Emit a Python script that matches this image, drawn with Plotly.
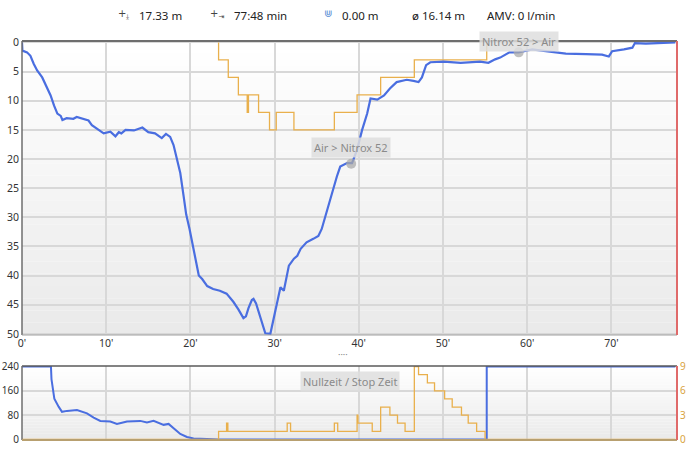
import plotly.graph_objects as go

# depth profile (minutes, metres)
depth_time = [0.0, 0.05, 0.6, 1.0, 1.4, 1.8, 2.4, 3.0, 3.4, 3.8, 4.2, 4.6, 4.8, 5.3, 6.1, 6.5, 7.3, 7.9,
              8.3, 9.1, 9.7, 10.5, 11.1, 11.5, 11.8, 12.3, 13.3, 14.3, 15.0, 15.8, 16.6, 17.1, 17.6,
              18.0, 18.4, 18.8, 19.2, 19.5, 19.9, 20.3, 20.6, 21.0, 21.4, 22.0, 22.7, 23.5, 24.3, 25.1,
              25.7, 26.3, 26.6, 26.9, 27.3, 27.5, 27.8, 28.1, 28.5, 28.9, 29.5, 30.1, 30.7, 31.1, 31.7,
              32.3, 32.7, 33.1, 33.8, 34.6, 35.2, 35.6, 36.2, 37.0, 37.4, 37.8, 38.6, 39.2, 39.8, 40.4,
              41.0, 41.4, 42.2, 43.0, 43.7, 44.5, 45.7, 46.5, 47.1, 47.5, 48.0, 48.5, 50.1, 52.1, 54.4,
              55.4, 56.2, 56.8, 57.9, 59.0, 60.6, 62.2, 64.6, 67.0, 68.9, 69.7, 70.1, 71.5, 72.5, 72.8,
              74.1, 77.6]
depth_m = [0.0, 1.4, 1.7, 2.3, 3.7, 4.8, 6.0, 7.7, 9.1, 10.8, 12.2, 12.6, 13.3, 13.0, 13.1, 12.8, 13.1, 13.4,
           14.2, 15.0, 15.6, 15.3, 16.1, 15.4, 15.6, 15.0, 15.1, 14.6, 15.4, 15.6, 16.4, 15.7, 16.2,
           17.6, 20.1, 22.4, 26.4, 29.5, 32.0, 34.9, 37.7, 40.0, 40.6, 41.8, 42.3, 42.6, 43.1, 44.5,
           45.8, 47.3, 47.0, 45.6, 44.2, 44.0, 44.8, 46.2, 48.3, 49.9, 50.0, 46.2, 42.0, 42.6, 38.3,
           37.1, 36.6, 35.4, 34.3, 33.7, 33.2, 32.0, 28.9, 24.7, 23.0, 21.3, 20.7, 20.7, 18.4, 15.0,
           12.2, 9.6, 9.8, 9.1, 7.9, 6.8, 6.4, 6.6, 6.8, 6.0, 3.9, 3.4, 3.3, 3.5, 3.3,
           3.5, 2.9, 2.6, 1.7, 1.7, 1.2, 1.5, 1.9, 2.0, 2.1, 2.4, 1.5, 1.2, 0.9, 0.1,
           0.2, 0.0]

# deco ceiling (step line)
ceiling_time = [23.35, 23.35, 24.5, 25.7, 26.75, 26.9, 28.1, 29.4, 30.2, 32.3, 37.1, 39.8, 42.6, 46.6, 55.2]
ceiling_m = [0, 3, 6, 9, 12, 9, 12, 15, 12, 15, 12, 9, 6, 3, 0]

# gas switches
switch_time = [39.1, 59.0]
switch_depth = [20.8, 1.7]
switch_label = ["Air > Nitrox 52", "Nitrox 52 > Air"]

# no-deco time (left axis, min)
ndl_time = [0, 3.44, 3.5, 3.84, 4.35, 4.75, 5.34, 6.53, 7.72, 8.51, 9.3, 10.49, 11.28, 12.47, 14.05,
            14.84, 15.63, 16.82, 17.41, 18.01, 18.8, 19.59, 20.38, 21.96, 23.35, 55.2, 55.2, 77.6]
ndl_min = [240, 240, 199, 134, 108, 91, 94, 97, 86, 72, 61, 59, 51, 59, 61,
           56, 61, 48, 51, 38, 18, 8, 3, 1, 0, 0, 240, 240]

# stop time (right axis, min)
stop_t = [0, 23.35, 24.3, 24.45, 31.5, 31.9, 37.1, 37.5, 39.8, 39.9, 41.6, 42.6, 43.7, 44.6, 45.5,
          46.6, 47.1, 48.15, 49.0, 50.2, 51.1, 52.2, 53.0, 54.0, 55.0, 77.6]
stop_min = [0, 1, 2, 1, 2, 1, 2, 1, 3, 2, 1, 4, 3, 2, 1,
            9, 8, 7, 6, 5, 4, 3, 2, 1, 0, 0]

x_ticks = [0, 10, 20, 30, 40, 50, 60, 70]
depth_ticks = [0, 5, 10, 15, 20, 25, 30, 35, 40, 45, 50]
ndl_ticks = [0, 80, 160, 240]
stop_ticks = [0, 3, 6, 9]

header_icons = ["+<sub>⤓</sub>", "+<sub>⇥</sub>", "⋓"]
header_values = ["17.33 m", "77:48 min", "0.00 m", "ø 16.14 m", "AMV: 0 l/min"]

BLUE = "#4a6ee0"
ORANGE = "#e9b04c"
FONT = "Noto Sans"

fig = go.Figure()
fig.add_trace(go.Scatter(x=ceiling_time, y=ceiling_m, mode="lines", line=dict(color=ORANGE, width=1.3, shape="hv"),
                         xaxis="x", yaxis="y", hoverinfo="skip"))
fig.add_trace(go.Scatter(x=depth_time, y=depth_m, mode="lines", line=dict(color=BLUE, width=2.2),
                         xaxis="x", yaxis="y"))
fig.add_trace(go.Scatter(x=switch_time, y=switch_depth, mode="markers",
                         marker=dict(color="rgba(170,170,170,0.75)", size=10),
                         xaxis="x", yaxis="y"))
fig.add_trace(go.Scatter(x=stop_t, y=stop_min, mode="lines", line=dict(color=ORANGE, width=1.3, shape="hv"),
                         xaxis="x2", yaxis="y3"))
fig.add_trace(go.Scatter(x=ndl_time, y=ndl_min, mode="lines", line=dict(color=BLUE, width=2),
                         xaxis="x2", yaxis="y2"))

top_dom = [1 - 335 / 449, 1 - 41 / 449]
low_dom = [1 - 440 / 449, 1 - 366 / 449]
tickfont = dict(family=FONT, size=10.5, color="#333333")

fig.update_layout(
    width=691, height=449,
    margin=dict(l=22, r=14, t=0, b=0, pad=0, autoexpand=False),
    paper_bgcolor="white", plot_bgcolor="white",
    showlegend=False,
    xaxis=dict(domain=[0, 1], range=[0, 77.8], tickvals=x_ticks, ticktext=[f"{t}'" for t in x_ticks],
               showgrid=True, gridcolor="#d8d8d8", gridwidth=1.5, zeroline=False, ticks="",
               tickfont=tickfont, anchor="y", automargin=False),
    yaxis=dict(domain=top_dom, range=[50.2, -0.25], tickvals=depth_ticks, showgrid=True,
               gridcolor="#d8d8d8", gridwidth=1.5, zeroline=False, ticks="", tickfont=tickfont,
               ticklabelstandoff=2, anchor="x", automargin=False),
    xaxis2=dict(domain=[0, 1], range=[0, 77.8], tickvals=x_ticks, showticklabels=False,
                showgrid=True, gridcolor="#d8d8d8", gridwidth=1.5, zeroline=False, anchor="y2",
                automargin=False),
    yaxis2=dict(domain=low_dom, range=[-2, 242], tickvals=ndl_ticks, showgrid=True,
                gridcolor="#d8d8d8", gridwidth=1.5, zeroline=False, ticks="",
                tickfont=dict(family=FONT, size=10, color="#333333"), ticklabelstandoff=2, anchor="x2",
                automargin=False),
    yaxis3=dict(domain=low_dom, range=[-2 * 9 / 240, 242 * 9 / 240], tickvals=stop_ticks, overlaying="y2",
                side="right", showgrid=False, zeroline=False, ticks="",
                tickfont=dict(family=FONT, size=10, color="#d9a441"), ticklabelstandoff=2, anchor="x2",
                automargin=False),
)

# soft vertical gradient behind both panels
bands = 24
for yref in ["y domain", "y2 domain"]:
    xref = "x domain" if yref == "y domain" else "x2 domain"
    for i in range(bands):
        g = round(255 - (255 - 234) * (i + 0.5) / bands)
        fig.add_shape(type="rect", xref=xref, yref=yref, x0=0, x1=1,
                      y0=1 - (i + 1) / bands, y1=1 - i / bands,
                      fillcolor=f"rgb({g},{g},{g})", line_width=0, layer="below")

# frame lines
frames = [
    ("x domain", "y domain", 0, 1, 1, 1, "#6e6e6e", 2),
    ("x domain", "y domain", 0, 0, 0, 1, "#6e6e6e", 1.5),
    ("x domain", "y domain", 0, 1, 0, 0, "#a0a0a0", 1.2),
    ("x domain", "y domain", 1, 1, 0, 1, "#e06a6a", 2),
    ("x2 domain", "y2 domain", 0, 1, 1, 1, "#5a5a5a", 1.5),
    ("x2 domain", "y2 domain", 0, 0, 0, 1, "#6e6e6e", 1.5),
    ("x2 domain", "y2 domain", 0, 1, 0, 0, "#b8a070", 2),
    ("x2 domain", "y2 domain", 1, 1, 0, 1, "#e06a6a", 2),
]
for xr, yr, x0, x1, y0, y1, c, w in frames:
    fig.add_shape(type="line", xref=xr, yref=yr, x0=x0, x1=x1, y0=y0, y1=y1,
                  line=dict(color=c, width=w), layer="above")

# gas switch labels
for t, d, lab, shift in zip(switch_time, switch_depth, switch_label, [16, 11]):
    fig.add_annotation(x=t, y=d, xref="x", yref="y", text=lab, showarrow=False, yshift=shift,
                       font=dict(family=FONT, size=11, color="#8a8a8a"),
                       bgcolor="rgba(222,222,222,0.85)", borderpad=2)

fig.add_annotation(x=38.9, y=191, xref="x2", yref="y2", text="Nullzeit / Stop Zeit", showarrow=False,
                   font=dict(family=FONT, size=11, color="#8a8a8a"),
                   bgcolor="rgba(222,222,222,0.85)", borderpad=2)

fig.add_annotation(x=(343 - 22) / 655, y=1 - 363 / 449, xref="paper", yref="paper", text="····",
                   showarrow=False, font=dict(family=FONT, size=9, color="#888888"))

# header stats
value_x = [137, 232, 340, 410, 485]
for vx, icon, col in zip(value_x, header_icons, ["#444444", "#444444", "#5b8fd6"]):
    fig.add_annotation(x=(vx - 28) / 655, y=1 - 6 / 449, xref="paper", yref="paper", text=icon,
                       xanchor="right", showarrow=False, font=dict(family="DejaVu Sans", size=10, color=col))
for vx, val in zip(value_x, header_values):
    fig.add_annotation(x=(vx - 22) / 655, y=1 - 6 / 449, xref="paper", yref="paper", text=val,
                       xanchor="left", showarrow=False, font=dict(family=FONT, size=11.5, color="#222222"))

fig.write_html("out.html", config={"displayModeBar": False},
               post_script="document.body.style.margin='0';")
